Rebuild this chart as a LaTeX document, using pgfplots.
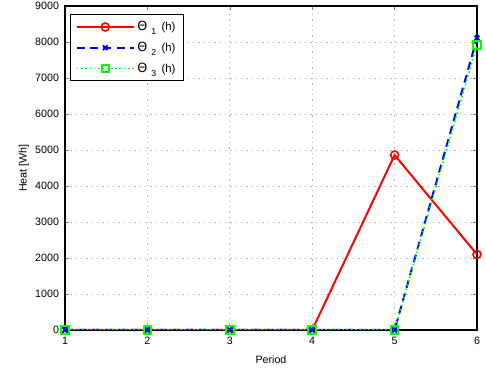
\documentclass[border=0pt]{standalone}
\usepackage{fontspec}
\setmainfont{Liberation Sans}
\newfontfamily\symfont{DejaVu Sans}
\usepackage{pgfplots}
\pgfplotsset{compat=1.18}
\newcommand{\thsub}[1]{{\symfont\fontsize{9.5}{10}\selectfont Θ}\hspace{3pt}\raisebox{-3pt}{\fontsize{6.5}{7}\selectfont #1}\hspace{4pt}(h)}
\begin{document}
\begin{tikzpicture}
\useasboundingbox (-48.75pt,-33pt) rectangle (315.75pt,247.5pt);
\begin{axis}[
  at={(0,0)}, anchor=south west,
  scale only axis, width=309pt, height=243pt,
  xmin=1, xmax=6, ymin=0, ymax=9000,
  xtick={1,2,3,4,5,6},
  ytick={0,1000,2000,3000,4000,5000,6000,7000,8000,9000},
  scaled y ticks=false,
  yticklabel style={xshift=-1pt, /pgf/number format/.cd, fixed, 1000 sep={}},
  xticklabel style={yshift=-2pt},
  /pgf/number format/assume math mode=true,
  tick label style={font=\fontsize{8}{9}\selectfont},
  label style={font=\fontsize{8}{9}\selectfont},
  xlabel={Period}, ylabel={Heat [Wh]},
  xlabel style={yshift=-1pt},
  ylabel style={yshift=-2pt},
  grid=major,
  major grid style={gray!60, dash pattern=on 1pt off 3pt, line width=0.6pt},
  tick align=inside, tick pos=both,
  major tick length=3pt,
  axis line style={line width=0.8pt},
  legend style={font=\fontsize{8.5}{10}\selectfont, at={(0.012,0.975)}, anchor=north west, line width=0.8pt, row sep=3pt, inner xsep=4pt, inner ysep=3pt},
  legend cell align=left,
  legend image code/.code={\draw[mark repeat=2,mark phase=2] plot coordinates {(0cm,0cm) (0.75cm,0cm) (1.5cm,0cm)};},
]
\addplot[red, line width=1.5pt, mark=o, mark size=3pt, mark options={solid, line width=1.2pt}]
  coordinates {(1,0) (2,0) (3,0) (4,0) (5,4860) (6,2100)};
\addlegendentry{\thsub{1}}
\addplot[blue, line width=1.5pt, dash pattern=on 6pt off 4pt, mark=x, mark size=2.5pt, mark options={solid, line width=1.5pt}]
  coordinates {(1,0) (2,0) (3,0) (4,0) (5,0) (6,8110)};
\addlegendentry{\thsub{2}}
\addplot[green, line width=1.2pt, dotted, mark=square, mark size=2.8pt, mark options={solid, line width=1.5pt}]
  coordinates {(1,0) (2,0) (3,0) (4,0) (5,0) (6,7920)};
\addlegendentry{\thsub{3}}
\end{axis}
\end{tikzpicture}
\end{document}
